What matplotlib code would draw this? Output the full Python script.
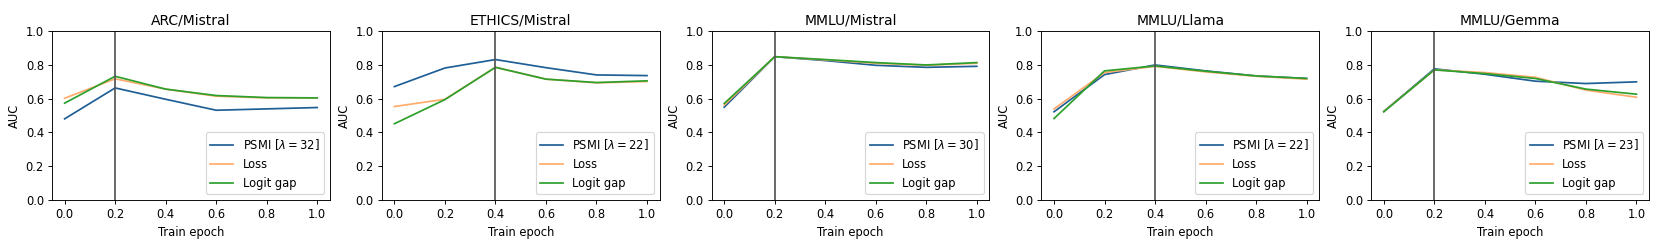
import matplotlib
matplotlib.use("Agg")
import matplotlib.pyplot as plt

epochs = [0.0, 0.2, 0.4, 0.6, 0.8, 1.0]

titles = ["ARC/Mistral", "ETHICS/Mistral", "MMLU/Mistral", "MMLU/Llama", "MMLU/Gemma"]
lambdas = [32, 22, 30, 22, 23]
vlines = [0.2, 0.4, 0.2, 0.4, 0.2]

psmi = [
    [0.480, 0.663, 0.596, 0.531, 0.539, 0.547],
    [0.671, 0.781, 0.831, 0.783, 0.740, 0.736],
    [0.549, 0.848, 0.825, 0.797, 0.785, 0.791],
    [0.522, 0.742, 0.799, 0.764, 0.734, 0.719],
    [0.524, 0.776, 0.744, 0.703, 0.689, 0.699],
]
loss = [
    [0.602, 0.717, 0.656, 0.614, 0.604, 0.604],
    [0.553, 0.596, 0.785, 0.715, 0.693, 0.701],
    [0.561, 0.848, 0.829, 0.809, 0.797, 0.809],
    [0.539, 0.754, 0.791, 0.758, 0.732, 0.715],
    [0.524, 0.770, 0.754, 0.726, 0.650, 0.608],
]
logit = [
    [0.573, 0.732, 0.656, 0.618, 0.606, 0.604],
    [0.451, 0.594, 0.785, 0.715, 0.695, 0.705],
    [0.571, 0.848, 0.831, 0.813, 0.799, 0.813],
    [0.482, 0.764, 0.793, 0.762, 0.734, 0.719],
    [0.522, 0.770, 0.748, 0.719, 0.656, 0.626],
]

c_psmi = "#1f5f96"
c_loss = "#ffab6b"
c_logit = "#2ca02c"

fig, axes = plt.subplots(1, 5, figsize=(1661 / 83, 249 / 83), dpi=83)
fig.subplots_adjust(left=0.0313, right=0.9928, top=0.8755, bottom=0.197, wspace=0.187)

for i, ax in enumerate(axes):
    ax.plot(epochs, psmi[i], color=c_psmi, lw=1.5, label=rf"PSMI [$\lambda = {lambdas[i]}$]")
    ax.plot(epochs, loss[i], color=c_loss, lw=1.5, label="Loss")
    ax.plot(epochs, logit[i], color=c_logit, lw=1.5, label="Logit gap")
    ax.axvline(vlines[i], color="#555555", lw=1.5)
    ax.set_ylim(0, 1)
    ax.set_xticks(epochs)
    ax.set_yticks([0.0, 0.2, 0.4, 0.6, 0.8, 1.0])
    ax.set_title(titles[i])
    ax.set_xlabel("Train epoch")
    ax.set_ylabel("AUC")
    ax.legend(loc="lower right")

fig.savefig("out.png", dpi=83)
